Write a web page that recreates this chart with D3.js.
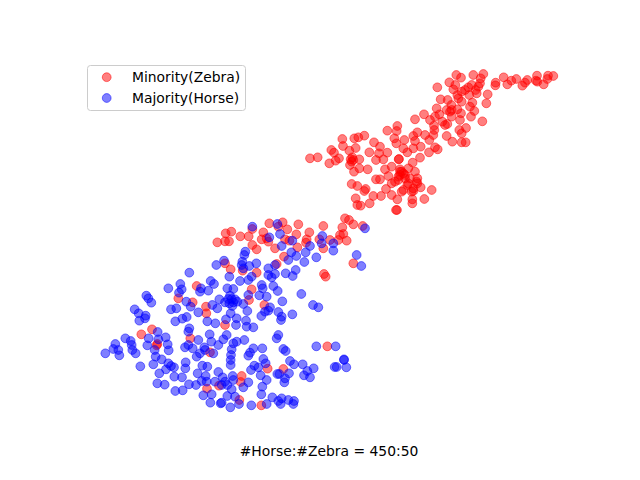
<!DOCTYPE html>
<html><head><meta charset="utf-8">
<script src="https://cdn.jsdelivr.net/npm/d3@7"></script>
<style>html,body{margin:0;padding:0;background:#fff}svg{display:block}</style>
</head><body><svg id="c" width="640" height="480"></svg>
<script>
const seriesNames = ["Minority(Zebra)", "Majority(Horse)"];
const caption = "#Horse:#Zebra = 450:50";
const zebraLower = [[652,727],[677,700],[694,695],[675,724],[687,724],[721,709],[746,709],[757,687],[790,697],[808,670],[848,667],[835,680],[862,688],[895,673],[889,703],[928,697],[970,678],[920,718],[918,728],[958,718],[990,720],[1015,720],[1030,702],[1020,705],[1040,722],[1027,682],[1035,655],[1047,660],[1060,673],[1088,678],[785,718],[805,725],[800,715],[757,735],[770,748],[825,745],[855,718],[892,742],[970,745],[852,770],[830,792],[728,812],[770,818],[692,808],[675,790],[1060,790],[972,822],[977,830],[868,722],
[590,858],[535,895],[578,907],[618,920],[619,940],[675,975],[424,1003],[456,988],[571,1015],[470,1036],[472,1032],[630,1057],[621,1166],[657,1157],
[755,868],[747,900],[793,915],[982,1039],[803,1106],[850,1107],[725,1128],[722,1146],[718,1200],[784,1216]];
const zebraMiddle = [[930,475],[953,472],[988,490],[994,450],[1002,458],[1017,475],[1007,482],[1027,417],[1029,438],[1063,415],[1075,412],[1093,407],[1067,444],[1048,452],[1057,472],[1078,478],[1055,485],[1050,495],[1062,515],[1078,505],[1103,508],[1108,457],[1122,427],[1140,440],[1137,460],[1162,458],[1150,478],[1128,480],[1162,392],[1192,378],[1190,393],[1183,415],[1189,430],[1213,420],[1210,445],[1222,457],[1197,477],[1196,478],[1238,488],[1252,397],[1240,408],[1275,405],[1245,423],[1240,445],[1262,440],[1288,420],[1303,390],[1300,405],[1287,457],[1260,473],[1305,442],[1313,448],[1340,408],[1335,375],[1342,372],[1290,360],[1175,500],[1155,508],[1200,508],[1200,525],[1225,505],[1245,515],[1165,528],[1128,538],[1140,538],[1055,552],[1072,558],[1097,567],[1093,573],[1175,550],[1158,567],[1175,585],[1143,588],[1120,588],[1109,610],[1067,595],[1072,615],[1082,617],[1192,598],[1188,630],[1191,630],[1237,598],[1237,610],[1273,597],[1295,570],[1262,562],[1240,573],[1252,535],[1252,550],[1210,570],[1205,575],[1222,555],[1215,525],[1205,515],[1195,540],[1230,535],
[1200,515],[1210,520],[1195,530],[1215,535],[1185,545],[1225,550],[1235,575],[1240,565],[1250,545],[1060,480],[1052,478]];
const zebraUpper = [[1312,262],[1369,225],[1383,233],[1348,247],[1366,255],[1360,268],[1372,285],[1385,275],[1405,262],[1395,270],[1420,225],[1442,235],[1450,222],[1440,250],[1435,260],[1415,255],[1427,270],[1430,280],[1408,285],[1463,283],[1459,310],[1487,248],[1486,256],[1511,232],[1522,253],[1534,242],[1549,237],[1567,257],[1582,240],[1575,248],[1611,227],[1608,242],[1612,245],[1644,227],[1660,228],[1631,253],[1642,237],[1322,298],[1343,300],[1354,315],[1340,330],[1310,325],[1272,343],[1245,358],[1318,343],[1305,350],[1327,365],[1355,350],[1350,335],[1372,328],[1385,305],[1383,340],[1380,360],[1413,350],[1423,333],[1410,320],[1417,308],[1447,364],[1398,384],[1378,390],[1385,400],[1357,425],[1385,427],[1397,427],[1302,377],[1375,295],[1355,330]];
const horseTop = [[757,680],[832,672],[808,712],[840,702],[877,722],[845,738],[930,738],[917,757],[967,708],[965,730],[1000,730],[1000,752],[874,757],[889,768],[865,780],[913,786],[949,772],[1095,685],[1070,765],[1084,798],[736,755],[733,765],[727,785],[725,795],[730,805],[748,798],[769,790],[672,782],[649,795],[825,795],[805,805],[887,810]];
const horseLeft = [[568,818],[505,865],[541,852],[545,868],[537,878],[603,865],[600,875],[625,872],[632,843],[642,852],[439,887],[445,895],[454,908],[404,928],[416,940],[437,947],[435,955],[418,962],[513,928],[529,925],[526,964],[547,956],[560,951],[559,905],[572,920],[595,937],[637,915],[652,925],[658,898],[675,907],[622,964],[646,970],[678,958],[568,985],[565,995],[629,1003],[595,1020],[634,1025],[655,1035],[670,1018],[680,1005],[473,996],[446,1015],[442,1036],[475,1018],[497,1012],[503,1033],[506,1051],[464,1050],[467,1070],[485,1078],[376,1015],[392,1023],[395,1035],[397,1050],[407,1060],[346,1032],[340,1047],[355,1050],[358,1066],[316,1060],[421,1099],[460,1093],[505,1090],[498,1108],[513,1098],[522,1102],[478,1120],[523,1130],[546,1132],[557,1087],[556,1105],[607,1097],[622,1100],[555,1042],[565,1035],[578,1045],[590,1070],[600,1060],[613,1042],[615,1050],[640,1060],[655,1116],[593,1120],[617,1128],[605,1143],[567,1153],[588,1155],[620,1145],[645,1145],[668,1132],[675,1145],[472,1150],[494,1154],[526,1173],[548,1171],[610,1186],[635,1183],[631,1208],[662,1210],[665,1208],[682,1188],[665,1155]];
const horseRight = [[688,830],[720,843],[745,840],[755,830],[805,825],[815,832],[825,822],[857,820],[878,828],[785,855],[788,865],[820,858],[833,873],[682,865],[700,867],[690,887],[745,885],[778,886],[800,890],[847,904],[904,882],[939,915],[955,922],[877,943],[835,936],[845,950],[843,960],[784,948],[795,935],[805,932],[810,922],[700,907],[705,898],[730,912],[742,933],[692,940],[710,955],[708,975],[738,962],[740,980],[760,982],[835,1005],[830,1015],[733,1020],[710,1025],[700,1030],[695,1048],[693,1065],[692,1080],[692,1095],[760,1045],[750,1058],[745,1067],[787,1045],[850,1047],[857,1053],[790,1077],[797,1090],[763,1097],[753,1110],[775,1102],[782,1126],[800,1140],[832,1122],[838,1122],[867,1120],[855,1135],[853,1147],[870,1083],[882,1093],[908,1093],[941,1105],[922,1113],[912,1126],[930,1132],[949,1039],[1007,1039],[1004,1101],[1010,1101],[1039,1102],[1032,1078],[1032,1080],[698,1128],[700,1140],[682,1155],[695,1168],[745,1147],[730,1162],[787,1160],[784,1183],[817,1192],[845,1195],[835,1203],[842,1212],[865,1200],[882,1203],[880,1212],[800,1212],[754,1216],[717,1212],[705,1190],[691,1222],
[688,910],[695,897],[697,918],[685,897],[712,905]];

const zebra = [...zebraLower, ...zebraMiddle, ...zebraUpper];
const horse = [...horseTop, ...horseLeft, ...horseRight];

const svg = d3.select("#c");
const x = d3.scaleLinear().domain([0, 1920]).range([0, 640]);
const y = d3.scaleLinear().domain([0, 1440]).range([0, 480]);
const color = d3.scaleOrdinal().domain(seriesNames).range(["#ff0000", "#0000ff"]);
const R = 4.4, SW = 1;

function dots(data, name) {
  svg.append("g").selectAll("circle").data(data).join("circle")
    .attr("cx", d => x(d[0])).attr("cy", d => y(d[1])).attr("r", R)
    .attr("fill", color(name)).attr("fill-opacity", 0.5)
    .attr("stroke", color(name)).attr("stroke-opacity", 0.5).attr("stroke-width", SW);
}
dots(zebra, seriesNames[0]);
dots(horse, seriesNames[1]);

const font = "'DejaVu Sans', sans-serif";
const lg = svg.append("g");
lg.append("rect").attr("x", 87.5).attr("y", 65.5).attr("width", 158).attr("height", 45)
  .attr("rx", 3).attr("fill", "#fff").attr("fill-opacity", 0.8).attr("stroke", "#ccc").attr("stroke-width", 1);
seriesNames.forEach((name, i) => {
  const cy = 77.2 + i * 20.8;
  lg.append("circle").attr("cx", 106.7).attr("cy", cy).attr("r", R)
    .attr("fill", color(name)).attr("fill-opacity", 0.5)
    .attr("stroke", color(name)).attr("stroke-opacity", 0.5).attr("stroke-width", SW);
  lg.append("text").attr("x", 132).attr("y", cy + 4.8).attr("font-family", font).attr("font-size", 13.89)
    .attr("fill", "#000").text(name);
});
svg.append("text").attr("x", 329).attr("y", 456).attr("text-anchor", "middle")
  .attr("font-family", font).attr("font-size", 13.89).attr("fill", "#000").text(caption);
</script></body></html>
